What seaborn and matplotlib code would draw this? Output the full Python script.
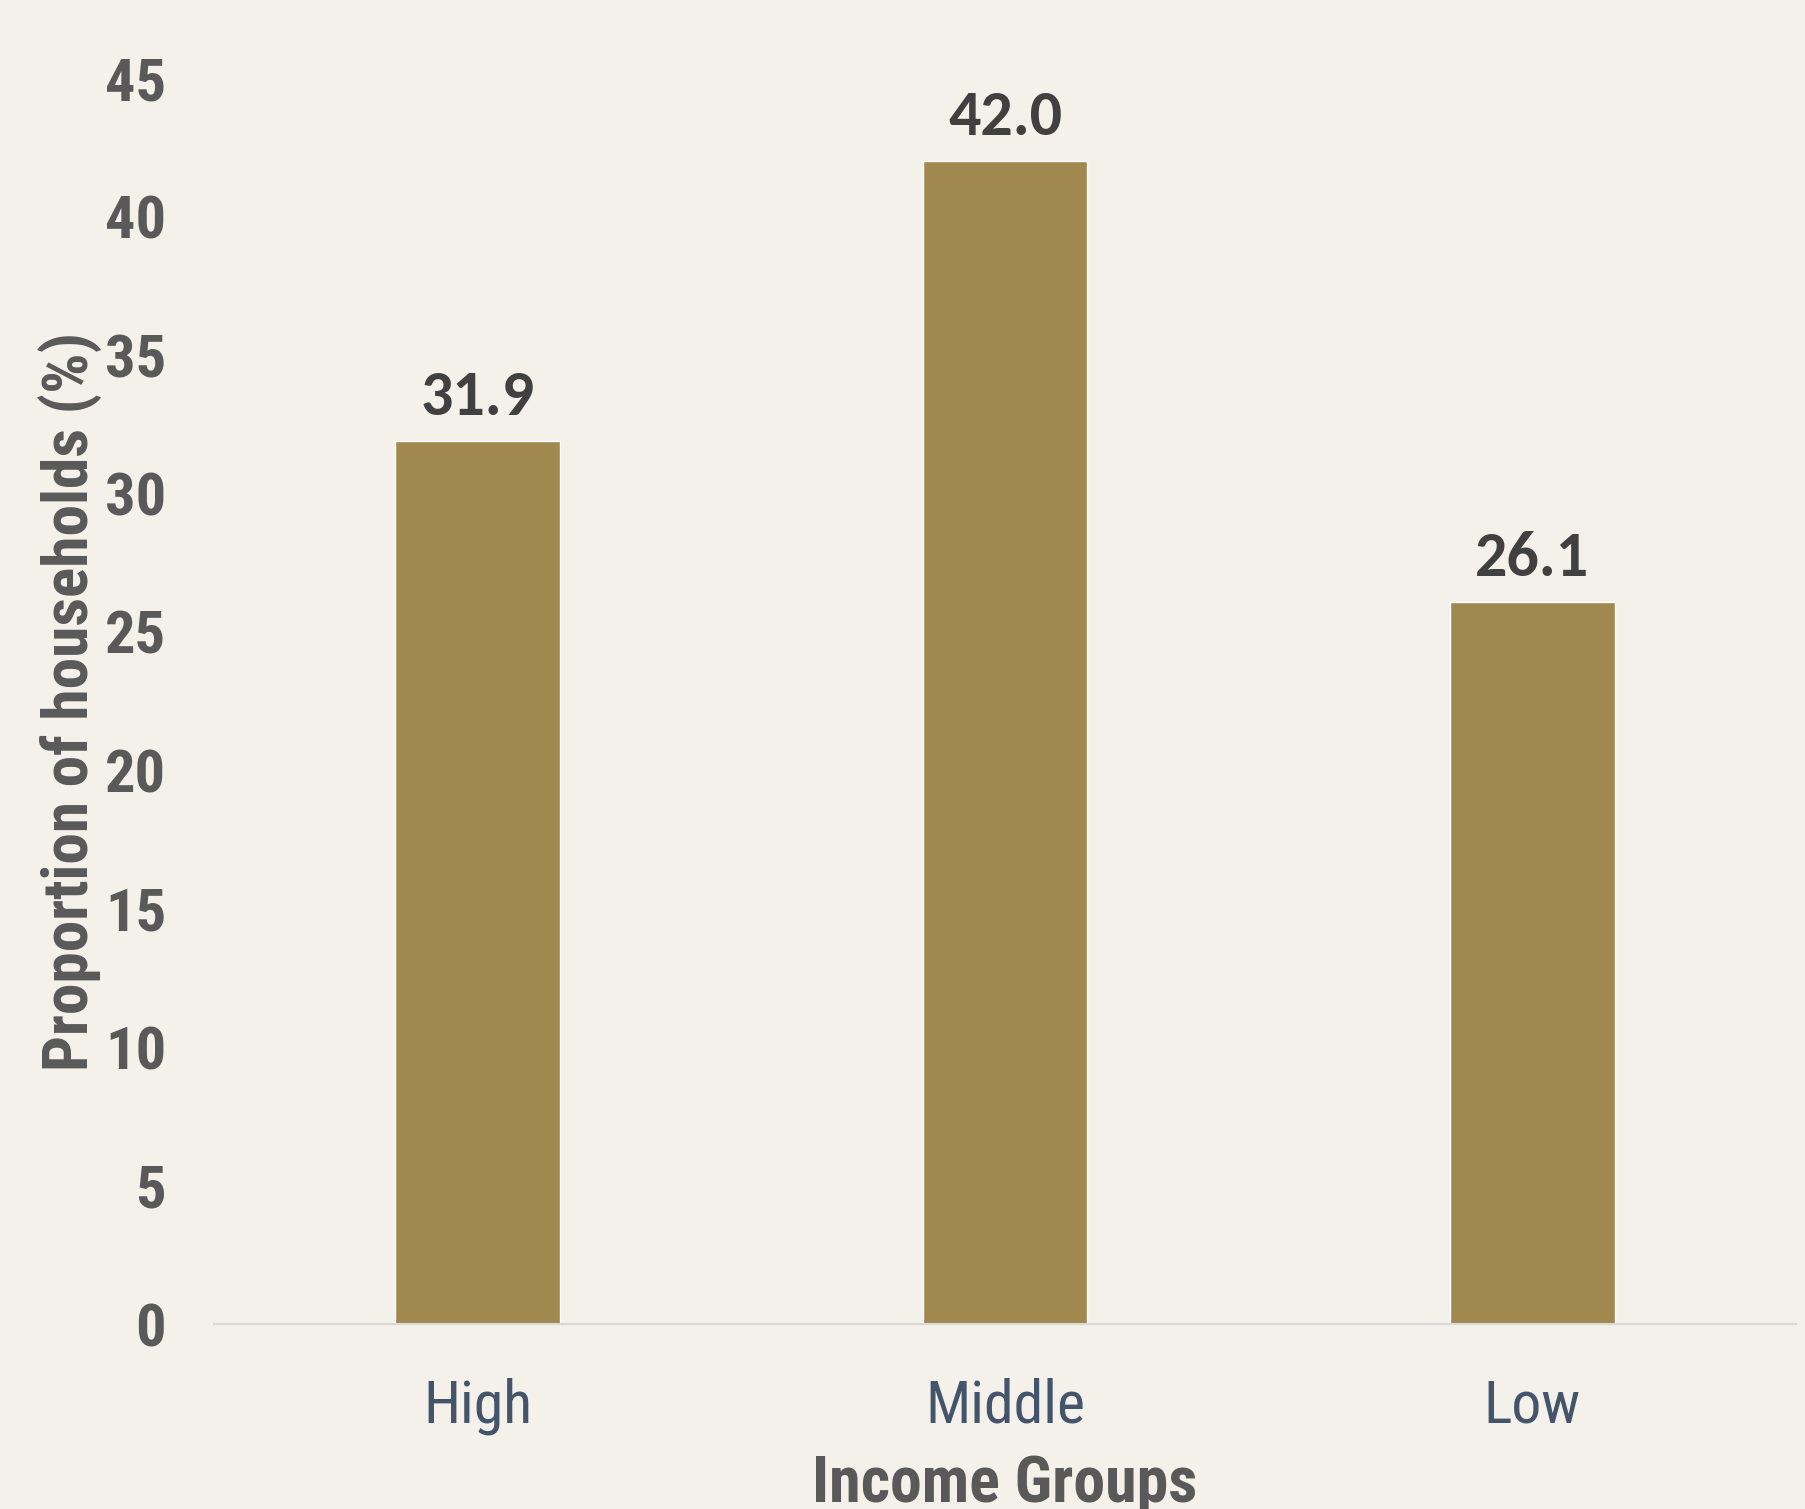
import matplotlib
matplotlib.use("Agg")
import matplotlib.pyplot as plt
import seaborn as sns
import pandas as pd

categories = ["High", "Middle", "Low"]
values = [31.9, 42.0, 26.1]
yticks = [0, 5, 10, 15, 20, 25, 30, 35, 40, 45]

BG = "#F3F1E9"
BAR = "#A0884F"
GREY = "#595959"
NARROW = ["Roboto Condensed", "Archivo Narrow", "DejaVu Sans"]
CALIBRI = ["Carlito", "Lato", "DejaVu Sans"]

sns.set_theme(style="white")
plt.rcParams["font.family"] = NARROW

df = pd.DataFrame({"group": categories, "value": values})

fig = plt.figure(figsize=(18.06, 15.09), dpi=100, facecolor=BG)
ax = fig.add_axes([0.1185, 0.1223, 0.876, 0.8260])
ax.set_facecolor(BG)

sns.barplot(data=df, x="group", y="value", color=BAR, saturation=1, width=0.312, ax=ax)

ax.set_ylim(0, 45)
ax.set_xlim(-0.5, 2.5)
ax.set_yticks(yticks)
ax.set_yticklabels([str(t) for t in yticks], fontsize=43.5, fontweight="bold", color=GREY)
ax.tick_params(axis="y", length=0, pad=34.5)
ax.tick_params(axis="x", length=0, pad=38, labelsize=43, labelcolor="#44546A")

for s in ["top", "right", "left"]:
    ax.spines[s].set_visible(False)
ax.spines["bottom"].set_color("#D9D9D9")
ax.spines["bottom"].set_linewidth(1.5)

ax.set_ylabel("Proportion of households (%)", fontsize=45.5, fontweight="bold", color=GREY, labelpad=2)
ax.set_xlabel("Income Groups", fontsize=46, fontweight="bold", color=GREY, labelpad=14)

for c in ax.containers:
    ax.bar_label(c, labels=[f"{v:.1f}" for v in values], padding=11.5,
                 fontsize=46, fontweight="bold", color="#404040", family=CALIBRI)

fig.savefig("out.png", dpi=100, facecolor=BG)
